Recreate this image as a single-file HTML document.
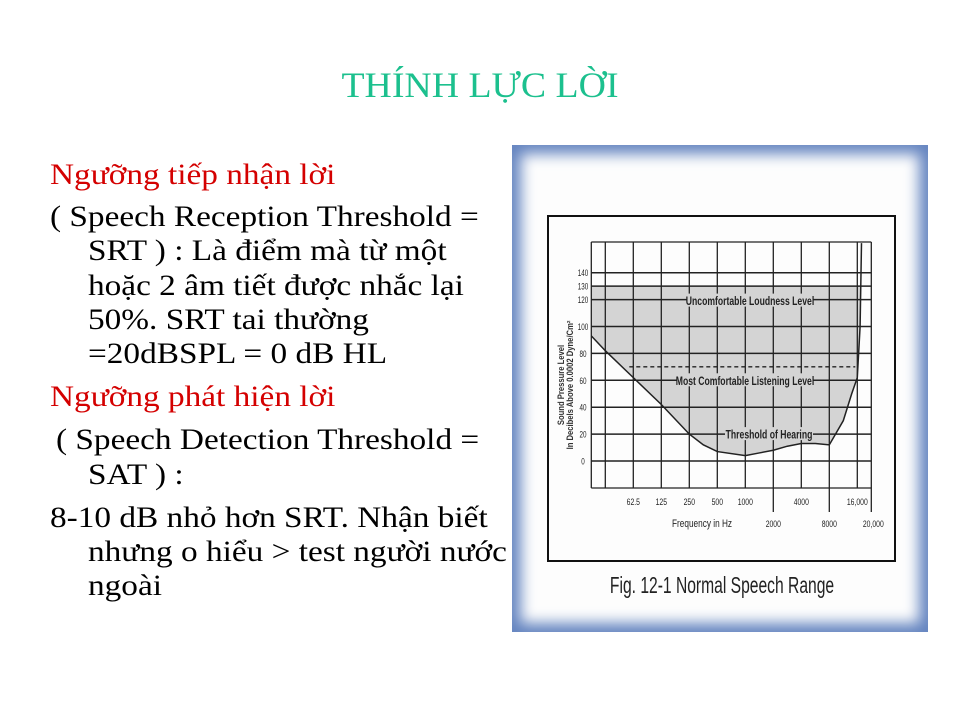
<!DOCTYPE html>
<html><head><meta charset="utf-8">
<style>
html,body{margin:0;padding:0;background:#fff;}
#slide{position:relative;width:960px;height:720px;overflow:hidden;background:#fff;font-family:"Liberation Serif",serif;}
.t{position:absolute;white-space:nowrap;font-size:30px;line-height:34px;color:#000;transform:scaleX(1.11);transform-origin:0 50%;}
.red{color:#d40000;}
#title{position:absolute;left:0;width:960px;top:64px;text-align:center;font-size:36px;color:#1cc08e;font-family:"Liberation Serif",serif;transform:scaleX(1.05);transform-origin:480px 50%;}
#frame{position:absolute;left:512px;top:145px;width:416px;height:487px;background:#fdfdfd;box-shadow:inset 0 0 14px 9px #6585c0;}
</style></head>
<body>
<div id="slide">
<div id="title">THÍNH LỰC LỜI</div>

<div class="t red" style="left:50px;top:158px">Ngưỡng tiếp nhận lời</div>
<div class="t" style="left:50px;top:200px">( Speech Reception Threshold =</div>
<div class="t" style="left:88px;top:234px">SRT ) : Là điểm mà từ một</div>
<div class="t" style="left:88px;top:269px">hoặc 2 âm tiết được nhắc lại</div>
<div class="t" style="left:88px;top:303px">50%. SRT tai thường</div>
<div class="t" style="left:88px;top:337px">=20dBSPL = 0 dB HL</div>
<div class="t red" style="left:50px;top:380px">Ngưỡng phát hiện lời</div>
<div class="t" style="left:56px;top:423px">( Speech Detection Threshold =</div>
<div class="t" style="left:88px;top:458px">SAT ) :</div>
<div class="t" style="left:50px;top:501px">8-10 dB nhỏ hơn SRT. Nhận biết</div>
<div class="t" style="left:88px;top:535px">nhưng o hiểu &gt; test người nước</div>
<div class="t" style="left:88px;top:569px">ngoài</div>

<div id="frame"></div>
<svg id="chart" width="960" height="720" style="position:absolute;left:0;top:0"></svg>
</div>

<script>
// ---- data ----
const gridLabels = ["", "62.5", "125", "250", "500", "1000", "2000", "4000", "8000", "16,000"];
const lowerLabelIdx = [6, 8];
const yTicks = [0, 20, 40, 60, 80, 100, 120, 130, 140];
const thrPos = [-0.5, 0, 1, 2, 3, 3.5, 4, 5, 5.5, 6, 6.5, 7, 7.5, 8, 8.5, 8.8, 9, 9.1, 9.15];
const thrDb  = [93, 82, 62, 42, 20, 12, 7, 4, 6, 8, 11, 13, 13, 12, 30, 50, 62, 100, 162];
const mclDb = 70;
const uclDb = 130;
const mclFrom = 1, mclTo = 9;

// ---- scales ----
const X = i => 605.3 + i * 28;
const Y = v => 461 - v * 1.345;
const pL = X(-0.5), pR = X(9.5), pT = 242, pB = 488;

const svg = document.getElementById('chart');
const NS = 'http://www.w3.org/2000/svg';
function mk(tag, attrs, parent) {
  const e = document.createElementNS(NS, tag);
  for (const k in attrs) e.setAttribute(k, attrs[k]);
  (parent || svg).appendChild(e);
  return e;
}
const cf = '"Liberation Sans",sans-serif';
function txt(x, y, s, size, sx, anchor, weight) {
  const t = mk('text', {transform:'translate(' + x + ',' + y + ') scale(' + sx + ',1)', 'text-anchor':anchor, 'font-size':size, 'font-family':cf, 'font-weight':weight, fill:'#222'});
  t.textContent = s;
  return t;
}

// inner figure box
const box = mk('rect', {x:548, y:216, width:347, height:345, fill:'none', stroke:'#111', 'stroke-width':2});



// gray fill
let pts = thrPos.map((p, i) => X(p) + ',' + Y(thrDb[i])).join(' ');
pts += ' ' + X(thrPos[thrPos.length - 1]) + ',' + pT + ' ' + pL + ',' + pT;
const fillA = mk('polygon', {points: pts, fill:'#d4d4d4'});


const wr = mk('rect', {x:pL, y:pT, width:X(9.2) - pL, height:Y(uclDb) - pT, fill:'#fdfdfd'});



// grid
for (let i = 0; i < gridLabels.length; i++) {
  const ext = lowerLabelIdx.includes(i) ? 512 : pB;
  const l = mk('line', {x1:X(i), x2:X(i), y1:pT, y2:ext, stroke:'#222', 'stroke-width':1.3});
  
  
}
[pL, pR].forEach(x => {
  const l = mk('line', {x1:x, x2:x, y1:pT, y2:(x === pR ? 512 : pB), stroke:'#222', 'stroke-width':1.3});
  
  
});
[pT, pB].forEach(y => {
  const l = mk('line', {x1:pL, x2:pR, y1:y, y2:y, stroke:'#222', 'stroke-width':1.3});
  
  
});
yTicks.forEach(v => {
  const l = mk('line', {x1:pL, x2:pR, y1:Y(v), y2:Y(v), stroke:'#222', 'stroke-width':1.5});
  
  
  const t = txt(583, Y(v) + 3.5, v, 9, 0.7, 'middle', 'normal');
  
  
});

// x labels
gridLabels.forEach((lab, i) => {
  if (!lab) return;
  const lower = lowerLabelIdx.includes(i);
  const t = txt(X(i), lower ? 527 : 505, lab, 9.5, 0.72, 'middle', 'normal');
  
  
});
const t20 = txt(pR + 2, 527, '20,000', 9.5, 0.72, 'middle', 'normal');



// MCL dashed line
const mcl = mk('line', {x1:X(mclFrom) - 4, x2:X(mclTo) - 2, y1:Y(mclDb), y2:Y(mclDb), stroke:'#222', 'stroke-width':1.4, 'stroke-dasharray':'4,3'});



// threshold curve
const dPath = thrPos.map((p, i) => (i ? 'L' : 'M') + X(p) + ' ' + Y(thrDb[i])).join(' ');
const curve = mk('path', {d: dPath, fill:'none', stroke:'#222', 'stroke-width':1.5});



// annotations
function label(s, cx, cy, w, name) {
  const r = mk('rect', {x:cx - w / 2, y:cy - 7, width:w, height:13, fill:'#d4d4d4'});
  
  
  const t = txt(cx, cy + 4.5, s, 12, 0.72, 'middle', 'bold');
  
  
}
label('Uncomfortable Loudness Level', 750, Y(120) + 1, 126, 'ucl-label');
label('Most Comfortable Listening Level', 745, Y(60), 136, 'mcl-label');
label('Threshold of Hearing', 769, Y(20), 88, 'threshold-label');

// axis titles
const yt = mk('text', {transform:'translate(564,385) rotate(-90) scale(0.85,1)', 'text-anchor':'middle', 'font-size':9, 'font-family':cf, 'font-weight':'bold', fill:'#333'});
yt.textContent = 'Sound Pressure Level';


const yt2 = mk('text', {transform:'translate(573,385) rotate(-90) scale(0.85,1)', 'text-anchor':'middle', 'font-size':9, 'font-family':cf, 'font-weight':'bold', fill:'#333'});
yt2.textContent = 'In Decibels Above 0.0002 Dyne/Cm²';


const xt = txt(702, 527, 'Frequency in Hz', 11, 0.75, 'middle', 'normal');


const cap = txt(722, 593, 'Fig. 12-1  Normal Speech Range', 23, 0.68, 'middle', 'normal');


</script>
</body></html>
